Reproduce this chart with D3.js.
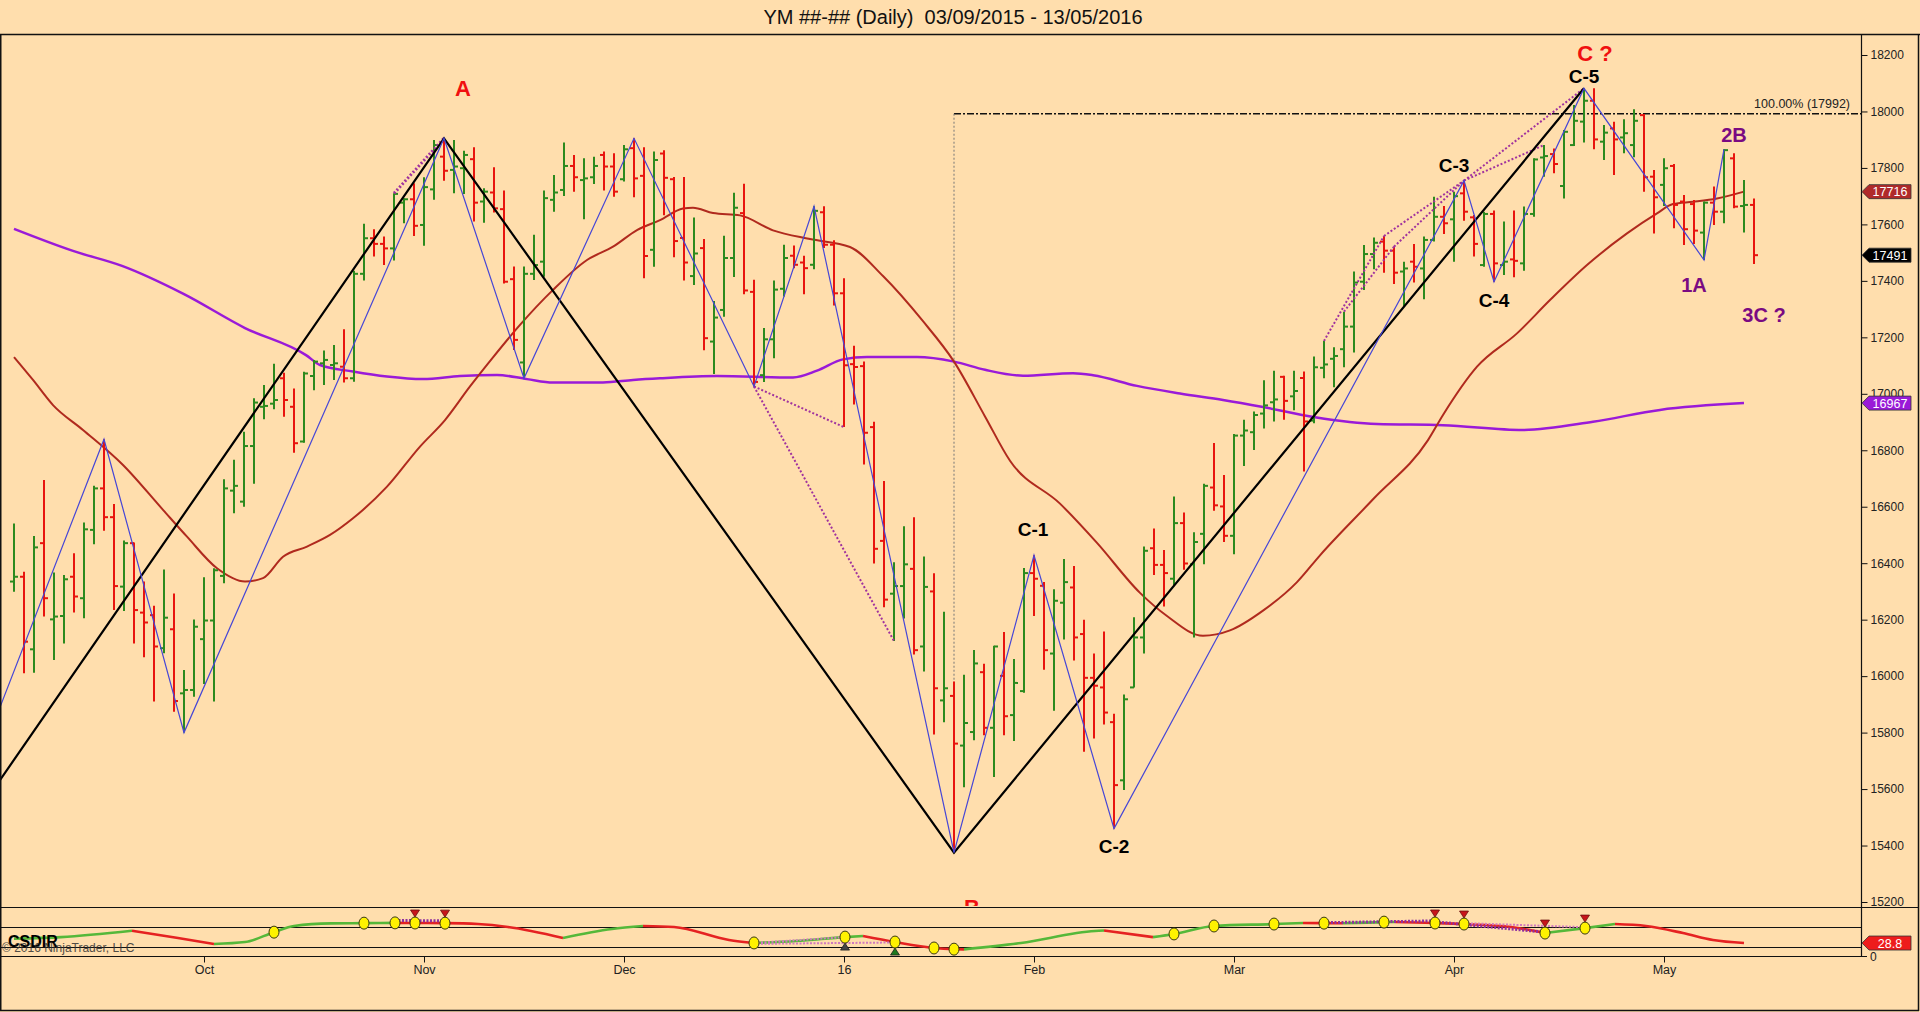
<!DOCTYPE html>
<html>
<head>
<meta charset="utf-8">
<script src="https://cdn.jsdelivr.net/npm/d3@7/dist/d3.min.js"></script>
<style>
body{margin:0;background:#FFDEAD;overflow:hidden;}
text{font-family:Arial,"Liberation Sans",sans-serif;}
</style>
</head>
<body>
<div id="svg-container"></div>
<script>
// daily bars 03/09/2015 .. 13/05/2016
var opens  = [16335,16352,16095,16471,16201,16213,16352,16276,16518,16665,16563,16317,16471,16225,16216,16099,16166,15939,15951,16131,
              16197,16355,16657,16618,16815,16954,16965,17055,16954,16831,17063,17108,17102,17096,17055,17425,17551,17531,17515,17677,
              17689,17598,17724,17840,17793,17799,17831,17681,17713,17654,17406,17111,17425,17468,17687,17722,17807,17757,17767,17846,
              17805,17760,17870,17772,17510,17851,17760,17552,17417,17516,17185,17297,17481,17640,17361,17066,17193,17372,17489,17465,
              17457,17643,17528,17356,17105,17098,16882,16479,16292,16319,16380,16105,16300,15914,15930,15754,15802,16014,15817,16001,
              15862,15947,16365,16320,16080,16260,16314,16149,15994,15960,15837,15631,15960,16137,16453,16394,16345,16542,16396,16504,
              16668,16601,16497,16852,16864,16930,16970,17060,16991,17056,16905,17092,17124,17158,17238,17397,17495,17539,17507,17433,
              17468,17444,17545,17627,17618,17710,17625,17456,17637,17456,17476,17462,17637,17837,17849,17736,17881,17964,18038,17893,
              17940,17908,17881,17987,17769,17740,17807,17681,17672,17571,17677,17645,17834,17665,17669];
var highs  = [16541,16370,16496,16695,16367,16358,16435,16544,16674,16839,16610,16480,16473,16335,16249,16378,16293,16022,16201,16350,
              16382,16697,16766,16866,16984,17031,17106,17075,17019,17078,17120,17153,17173,17229,17436,17602,17583,17557,17710,17693,
              17746,17767,17899,17905,17899,17861,17873,17728,17802,17720,17451,17451,17563,17720,17775,17890,17846,17834,17840,17858,
              17852,17881,17905,17873,17858,17863,17768,17768,17624,17548,17329,17560,17712,17744,17404,17233,17401,17528,17525,17489,
              17664,17664,17544,17409,17170,17114,16901,16691,16403,16531,16563,16424,16364,16228,15981,16005,16093,16044,16108,16156,
              16061,16383,16428,16333,16308,16415,16390,16200,16080,16158,15867,15935,16209,16459,16523,16447,16636,16580,16510,16681,
              16826,16712,16858,16908,16937,17048,17082,17064,17082,17079,17132,17187,17165,17291,17433,17527,17554,17559,17521,17468,
              17531,17557,17698,17665,17716,17755,17633,17645,17649,17610,17649,17663,17834,17881,17869,17934,18023,18082,18082,17952,
              17964,17972,18008,17991,17793,17834,17814,17704,17686,17681,17734,17866,17852,17757,17692];
var lows   = [16299,16010,16012,16211,16057,16116,16225,16205,16467,16515,16234,16231,16116,16067,15910,16081,15874,15800,15927,15972,
              15910,16329,16577,16600,16681,16910,16945,16919,16791,16827,17013,17031,17049,17040,17043,17401,17486,17456,17472,17604,
              17559,17524,17687,17755,17710,17708,17610,17606,17642,17391,17155,17055,17403,17415,17645,17701,17716,17618,17743,17720,
              17698,17752,17696,17409,17450,17632,17484,17401,17385,17154,17070,17273,17414,17353,17026,17042,17126,17345,17445,17353,
              17441,17516,17313,16882,16962,16750,16399,16244,16124,16204,16077,16016,15793,15837,15375,15606,15773,15791,15643,15791,
              15770,15941,16213,16023,15877,16130,16055,15732,15779,15829,15460,15597,15960,16080,16358,16247,16320,16377,16137,16396,
              16586,16475,16432,16744,16801,16877,16902,16908,16942,16725,16896,17055,17023,17094,17146,17368,17441,17429,17389,17311,
              17394,17335,17539,17566,17468,17613,17486,17450,17397,17421,17413,17436,17627,17769,17781,17692,17878,17890,17866,17828,
              17775,17852,17838,17716,17568,17665,17586,17527,17531,17474,17598,17604,17657,17571,17460];
var closes = [16352,16122,16456,16276,16211,16343,16282,16520,16665,16563,16319,16471,16234,16190,16105,16207,15912,15951,16175,16197,
              16375,16665,16674,16815,16969,16957,16978,16978,16825,17072,17114,17120,17108,17055,17425,17551,17531,17515,17708,17689,
              17595,17732,17881,17790,17805,17846,17677,17716,17657,17397,17191,17425,17456,17693,17713,17807,17767,17763,17807,17805,
              17716,17866,17763,17488,17828,17765,17541,17465,17497,17197,17270,17481,17659,17366,17042,17193,17369,17481,17457,17445,
              17648,17528,17356,17101,17095,16862,16451,16271,16319,16396,16092,16316,15957,15957,15761,15834,16045,15817,16105,15858,
              15976,16365,16345,16092,16267,16333,16137,15994,15966,15871,15614,15918,16137,16444,16394,16365,16542,16399,16475,16674,
              16605,16497,16852,16870,16925,16959,16980,16975,17010,16902,17094,17104,17134,17238,17394,17495,17535,17507,17429,17444,
              17450,17545,17627,17604,17700,17645,17531,17637,17462,17468,17471,17637,17830,17842,17814,17928,17967,18038,17901,17925,
              17901,17923,17967,17767,17696,17799,17669,17583,17578,17677,17645,17863,17663,17669,17491];

var monthLabels = ["Oct","Nov","Dec","16","Feb","Mar","Apr","May"];
var monthBars   = [19, 41, 61, 83, 102, 122, 144, 165];
var priceTicks  = [15200,15400,15600,15800,16000,16200,16400,16600,16800,17000,17200,17400,17600,17800,18000,18200];

// moving averages, [bar, value]
var redMA = [[0,17130],[1.9,17049],[3.9,16960],[6.9,16872],[10.9,16748],[14.9,16589],[17.3,16494],[20.3,16382],[23.1,16335],
             [24.9,16347],[26.9,16423],[29.3,16459],[31.6,16500],[33.9,16559],[37.3,16671],[40.6,16813],[43.1,16907],[45.6,17026],
             [47.9,17129],[50.6,17244],[53.9,17368],[57.3,17474],[59.9,17521],[62.3,17580],[64.6,17615],[66.9,17656],[67.9,17659],
             [69.9,17640],[72.6,17632],[75.9,17579],[79.6,17548],[83.6,17520],[86.9,17417],[90.9,17257],[94,17114],[97.1,16920],
             [99.6,16763],[104.6,16611],[108.3,16472],[112.6,16295],[115.3,16213],[118.9,16143],[121.6,16162],[124.9,16232],
             [128.3,16333],[130.6,16428],[136,16630],[141.4,16836],[142.9,16925],[146.3,17096],[150.3,17214],[153.6,17332],
             [157.3,17456],[161.3,17568],[164.3,17639],[165.9,17672],[167.9,17680],[170.3,17692],[173,17716]];
var purpleMA = [[0,17584],[5.9,17506],[10.8,17453],[17,17353],[23.1,17233],[29.2,17137],[30.6,17102],[33.9,17079],[37.3,17061],
                [40.9,17052],[44.6,17063],[48.3,17067],[51.3,17052],[53.9,17040],[58.9,17040],[61.9,17049],[64.6,17055],[70.3,17063],
                [77.9,17058],[80.3,17082],[82.9,17122],[85.3,17130],[90.3,17130],[94,17114],[97.1,17085],[100.9,17064],[105.9,17073],
                [107.9,17066],[112.3,17028],[116.6,17001],[120.9,16978],[124.9,16953],[130.1,16917],[136.3,16893],[142.9,16889],
                [150.9,16872],[157.9,16901],[164.6,16943],[173,16967]];

// wave drawings
var blackZigzag = [[-1.4,15632],[43,17905],[94,15375],[157,18082]];
var blueZigzag  = [[-1.4,15890],[9,16839],[17,15800],[43,17905],[51,17055],[62,17905],[74,17026],[80,17664],[94,15375],
                   [102,16428],[110,15460],[145,17755],[148,17397],[157,18082],[169,17474],[171,17866]];
var dottedLinks = [[[38,17710],[43,17905]],[[74,17026],[83,16882]],[[74,17026],[88,16124]],[[131,17187],[137,17559]],
                   [[133,17291],[138,17521]],[[137,17559],[145,17755]],[[138,17521],[145,17755]],[[145,17755],[153,17881]],
                   [[145,17755],[157,18082]]];
var fibBar = 94, fibLow = 15375, fibLevel = 17992;

var waveText  = ["A","B","C ?","C-1","C-2","C-3","C-4","C-5","1A","2B","3C ?"];
var waveBar   = [44.9, 95.8, 158.1, 101.9, 110, 144, 148, 157, 168, 172, 175];
var wavePrice = [18055, 15155, 18179, 16496, 15374, 17786, 17307, 18101, 17361, 17892, 17254];
var waveKind  = ["main","main","main","minor","minor","minor","minor","minor","sub","sub","sub"];

// CSDIR indicator
var csdir = [[0,38.5],[4.7,42],[11.8,56],[16.4,40],[20,26.7],[23.1,31],[26,53],[28,66.7],[31.7,72.5],[35,73],[38.1,73.6],
             [40.1,73.3],[43.1,73],[46.4,71],[49.4,64.4],[54.9,40],[59.8,60],[62.9,66.7],[66,64.4],[71.5,35.6],[74,29],
             [78.2,33.3],[83.1,42],[84.9,44.4],[88.1,31],[92,17.8],[94,15.2],[95,14.8],[100.7,28.9],[108.1,55.6],[109,56.5],
             [113.9,42],[116,49],[120,66.7],[126,71],[128.9,73.5],[131,73],[132.9,72.8],[137,75.3],[138.1,75.6],[142.1,73.3],
             [145,71],[149.7,64.4],[153.1,51],[157.1,62],[160.1,71],[163.2,66.7],[166.9,51],[169.9,35.6],[173,28.8]];
var csdirDots = [[26,53],[35,73],[38.1,73.6],[40.1,73.3],[43.1,73],[74,29],[83.1,42],[88.1,31],[92,17.8],[94,15.2],
                 [116,49],[120,66.7],[126,71],[131,73],[137,75.3],[142.1,73.3],[145,71],[153.1,51],[157.1,62]];
var csdirDown = [[40.1,73.3],[43.1,73],[142.1,73.3],[145,71],[153.1,51],[157.1,62]];
var csdirUp   = [[83.1,42],[88.1,31]];
var csdirLinks = [[[38.1,79],[43.1,78]],[[74,29],[83.1,42]],[[74,27],[88.1,30]],[[131,74],[142.1,78]],
                  [[142.1,76],[153.1,53]],[[145,73],[157.1,64]]];
var csdirLevels = [20, 64];

var W = 1920, H = 1012;
var upCol = "#2C8A1E", downCol = "#E8140E";

var svg = d3.select("#svg-container").append("svg").attr("width", W).attr("height", H);
svg.append("rect").attr("width", W).attr("height", H).attr("fill", "#FFDEAD");

var x = d3.scaleLinear().domain([0, closes.length - 1]).range([14, 14 + 10 * (closes.length - 1)]);
var y = d3.scaleLinear().domain([15200, 18200]).range([902, 55]);
var yi = d3.scaleLinear().domain([0, 100]).range([956, 911]);

var defs = svg.append("defs");
defs.append("clipPath").attr("id", "plotclip").append("rect").attr("x", 1).attr("y", 35).attr("width", 1860).attr("height", 871);
defs.append("clipPath").attr("id", "indclip").append("rect").attr("x", 1).attr("y", 908).attr("width", 1860).attr("height", 48);

// title
svg.append("text").attr("x", 953).attr("y", 24).attr("text-anchor", "middle").attr("font-size", 20)
   .style("white-space", "pre").attr("fill", "#111").text("YM ##-## (Daily)  03/09/2015 - 13/05/2016");

var plot = svg.append("g").attr("clip-path", "url(#plotclip)");
var line = d3.line().x(function(d){ return x(d[0]); }).y(function(d){ return y(d[1]); });
var curve = d3.line().x(function(d){ return x(d[0]); }).y(function(d){ return y(d[1]); }).curve(d3.curveMonotoneX);

// fib level
plot.append("line").attr("x1", x(fibBar)).attr("x2", 1861).attr("y1", y(fibLevel)).attr("y2", y(fibLevel))
    .attr("stroke", "#111").attr("stroke-width", 1.5).attr("stroke-dasharray", "7,2,2,2");
plot.append("line").attr("x1", x(fibBar)).attr("x2", x(fibBar)).attr("y1", y(fibLevel)).attr("y2", y(fibLow))
    .attr("stroke", "#777").attr("stroke-width", 1).attr("stroke-dasharray", "2,2");
plot.append("text").attr("x", 1850).attr("y", y(fibLevel) - 6).attr("text-anchor", "end").attr("font-size", 12.5)
    .attr("fill", "#222").text("100.00% (" + fibLevel + ")");

// moving averages
plot.append("path").attr("d", curve(purpleMA)).attr("fill", "none").attr("stroke", "#9A1AD8").attr("stroke-width", 2.5);
plot.append("path").attr("d", curve(redMA)).attr("fill", "none").attr("stroke", "#B02A1E").attr("stroke-width", 2);

// bars
var bars = plot.selectAll(".bar").data(closes).enter().append("g").attr("class", "bar")
    .attr("stroke", function(d, i){ return closes[i] > opens[i] ? upCol : downCol; }).attr("stroke-width", 2);
bars.append("line").attr("x1", function(d, i){ return x(i); }).attr("x2", function(d, i){ return x(i); })
    .attr("y1", function(d, i){ return y(highs[i]); }).attr("y2", function(d, i){ return y(lows[i]); });
bars.append("line").attr("x1", function(d, i){ return x(i) - 4; }).attr("x2", function(d, i){ return x(i); })
    .attr("y1", function(d, i){ return y(opens[i]); }).attr("y2", function(d, i){ return y(opens[i]); });
bars.append("line").attr("x1", function(d, i){ return x(i); }).attr("x2", function(d, i){ return x(i) + 4; })
    .attr("y1", function(d, i){ return y(closes[i]); }).attr("y2", function(d, i){ return y(closes[i]); });

// wave lines
dottedLinks.forEach(function(s, k){
    plot.append("path").attr("d", line(s)).attr("fill", "none").attr("stroke", "#A0329E")
        .attr("stroke-width", k == 0 ? 3 : 2).attr("stroke-dasharray", "2,2");
});
plot.append("path").attr("d", line(blackZigzag)).attr("fill", "none").attr("stroke", "#000").attr("stroke-width", 2.2);
plot.append("path").attr("d", line(blueZigzag)).attr("fill", "none").attr("stroke", "#4646D6").attr("stroke-width", 1.2);

// wave labels
var kindCol = {main: "#F01010", minor: "#000", sub: "#7A0A82"};
var kindSize = {main: 22, minor: 19, sub: 20};
waveText.forEach(function(t, k){
    plot.append("text").attr("x", x(waveBar[k])).attr("y", y(wavePrice[k])).attr("text-anchor", "middle")
        .attr("font-weight", "bold").attr("font-size", kindSize[waveKind[k]]).attr("fill", kindCol[waveKind[k]])
        .style("white-space", "pre").text(t);
});

// right price axis
var yAxis = d3.axisRight(y).tickValues(priceTicks).tickSize(6).tickPadding(3).tickFormat(d3.format("d"));
var ax = svg.append("g").attr("transform", "translate(1861.5,0)").call(yAxis);
ax.select(".domain").remove();
ax.selectAll("text").attr("font-size", 12).attr("fill", "#222").attr("font-family", "Arial,'Liberation Sans',sans-serif");
ax.selectAll("line").attr("stroke", "#111");

// price flags
function flag(yy, txt, col){
    var g = svg.append("g");
    g.append("path").attr("d", "M1862," + yy + "L1869," + (yy - 7) + "L1911," + (yy - 7) + "L1911," + (yy + 7) + "L1869," + (yy + 7) + "Z")
        .attr("fill", col).attr("stroke", "#333").attr("stroke-width", 0.8);
    g.append("text").attr("x", 1890).attr("y", yy + 4.5).attr("text-anchor", "middle").attr("font-size", 12.5)
        .attr("fill", "#fff").text(txt);
}

// indicator panel
var ind = svg.append("g").attr("clip-path", "url(#indclip)");
csdirLevels.forEach(function(v){
    ind.append("line").attr("x1", 0).attr("x2", 1861).attr("y1", Math.round(yi(v)) + 0.5).attr("y2", Math.round(yi(v)) + 0.5)
        .attr("stroke", "#111").attr("stroke-width", 1.2);
});
svg.append("text").attr("x", 8).attr("y", 947).attr("font-size", 16).attr("font-weight", "bold").attr("fill", "#000").text("CSDIR");
svg.append("text").attr("x", 2).attr("y", 952).attr("font-size", 12).attr("fill", "#333").attr("opacity", 0.85).text("\u00a9 2016 NinjaTrader, LLC");

var icurve = d3.line().x(function(d){ return x(d[0]); }).y(function(d){ return yi(d[1]); }).curve(d3.curveMonotoneX);
var iline = d3.line().x(function(d){ return x(d[0]); }).y(function(d){ return yi(d[1]); });
var run = [csdir[0]], runUp = csdir[1][1] > csdir[0][1];
for (var i = 1; i < csdir.length; i++) {
    var up = csdir[i][1] > csdir[i - 1][1];
    if (up != runUp) {
        ind.append("path").attr("d", icurve(run)).attr("fill", "none").attr("stroke", runUp ? "#55B83A" : "#E52222").attr("stroke-width", 2.6);
        run = [csdir[i - 1]];
        runUp = up;
    }
    run.push(csdir[i]);
}
ind.append("path").attr("d", icurve(run)).attr("fill", "none").attr("stroke", runUp ? "#55B83A" : "#E52222").attr("stroke-width", 2.6);

csdirLinks.forEach(function(s, k){
    ind.append("path").attr("d", iline(s)).attr("fill", "none").attr("stroke", (k == 0 || k == 3 || k == 4) ? "#9030A0" : "#D07ABF")
        .attr("stroke-width", (k == 0 || k == 3 || k == 4) ? 3 : 2).attr("stroke-dasharray", "2,1.5");
});
csdirDown.forEach(function(d){
    var cx = x(d[0]), cy = yi(d[1]) - 9;
    ind.append("path").attr("d", "M" + (cx - 4.5) + "," + (cy - 4) + "L" + (cx + 4.5) + "," + (cy - 4) + "L" + cx + "," + (cy + 3) + "Z")
        .attr("fill", "#C8141A").attr("stroke", "#6A1010").attr("stroke-width", 0.8);
});
csdirUp.forEach(function(d, k){
    var cx = x(d[0]), cy = yi(d[1]) + 9;
    ind.append("path").attr("d", "M" + (cx - 4.5) + "," + (cy + 4) + "L" + (cx + 4.5) + "," + (cy + 4) + "L" + cx + "," + (cy - 3) + "Z")
        .attr("fill", k == 0 ? "#444" : "#1E7A1E").attr("stroke", "#222").attr("stroke-width", 0.8);
});
ind.selectAll(".dot").data(csdirDots).enter().append("ellipse").attr("class", "dot")
    .attr("cx", function(d){ return x(d[0]); }).attr("cy", function(d){ return yi(d[1]); })
    .attr("rx", 5).attr("ry", 6).attr("fill", "#FFF200").attr("stroke", "#3A3A10").attr("stroke-width", 1);

// month axis
var mAxis = d3.axisBottom(x).tickValues(monthBars).tickSize(6).tickPadding(3)
    .tickFormat(function(d){ return monthLabels[monthBars.indexOf(d)]; });
var mx = svg.append("g").attr("transform", "translate(0,956.5)").call(mAxis);
mx.select(".domain").remove();
mx.selectAll("text").attr("font-size", 12.5).attr("fill", "#222").attr("font-family", "Arial,'Liberation Sans',sans-serif");
mx.selectAll("line").attr("stroke", "#111");

// frame
svg.append("line").attr("x1", 0).attr("x2", W).attr("y1", 34.5).attr("y2", 34.5).attr("stroke", "#111").attr("stroke-width", 1.5);
svg.append("line").attr("x1", 0).attr("x2", 1919).attr("y1", 907.5).attr("y2", 907.5).attr("stroke", "#111").attr("stroke-width", 1.2);
svg.append("line").attr("x1", 0).attr("x2", 1861.5).attr("y1", 956.5).attr("y2", 956.5).attr("stroke", "#111").attr("stroke-width", 1.2);
svg.append("line").attr("x1", 0).attr("x2", 1919).attr("y1", 1010.5).attr("y2", 1010.5).attr("stroke", "#111").attr("stroke-width", 1.5);
svg.append("line").attr("x1", 0.75).attr("x2", 0.75).attr("y1", 34).attr("y2", 1011).attr("stroke", "#111").attr("stroke-width", 1.5);
svg.append("line").attr("x1", 1861.5).attr("x2", 1861.5).attr("y1", 34).attr("y2", 957).attr("stroke", "#111").attr("stroke-width", 1.2);
svg.append("line").attr("x1", 1918.5).attr("x2", 1918.5).attr("y1", 34).attr("y2", 1011).attr("stroke", "#111").attr("stroke-width", 1.5);

// indicator axis "0"
svg.append("line").attr("x1", 1861).attr("x2", 1867).attr("y1", 956.5).attr("y2", 956.5).attr("stroke", "#111");
svg.append("text").attr("x", 1870).attr("y", 961).attr("font-size", 12).attr("fill", "#222").text("0");

flag(y(redMA[redMA.length - 1][1]), String(redMA[redMA.length - 1][1]), "#B02A2A");
flag(y(closes[closes.length - 1]), String(closes[closes.length - 1]), "#000");
flag(y(purpleMA[purpleMA.length - 1][1]), String(purpleMA[purpleMA.length - 1][1]), "#9A1AD8");
flag(yi(csdir[csdir.length - 1][1]), d3.format(".1f")(csdir[csdir.length - 1][1]), "#EE1C1C");
</script>
</body>
</html>
